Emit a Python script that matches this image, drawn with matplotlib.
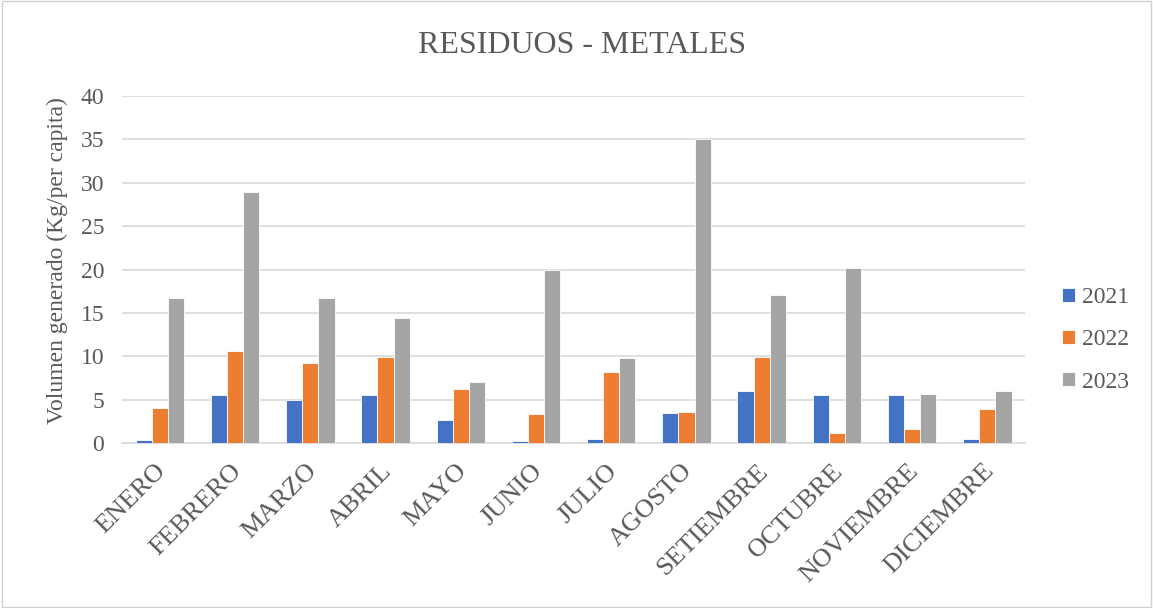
import numpy as np
import matplotlib
matplotlib.use("Agg")
import matplotlib.pyplot as plt
from matplotlib.patches import Rectangle
from matplotlib.transforms import ScaledTranslation

months = ["ENERO", "FEBRERO", "MARZO", "ABRIL", "MAYO", "JUNIO", "JULIO",
          "AGOSTO", "SETIEMBRE", "OCTUBRE", "NOVIEMBRE", "DICIEMBRE"]
v2021 = [0.4, 5.5, 5.0, 5.5, 2.7, 0.2, 0.45, 3.5, 6.0, 5.5, 5.5, 0.45]
v2022 = [4.1, 10.6, 9.2, 9.9, 6.2, 3.4, 8.2, 3.6, 9.9, 1.15, 1.6, 4.0]
v2023 = [16.7, 28.9, 16.7, 14.4, 7.1, 20.0, 9.8, 35.1, 17.1, 20.2, 5.7, 6.0]
series = ["2021", "2022", "2023"]
colors = ["#4472C4", "#ED7D31", "#A5A5A5"]

plt.rcParams["font.family"] = ["Liberation Serif", "DejaVu Serif"]
txt = "#595959"

fig = plt.figure(figsize=(11.53, 6.08), dpi=100)
ax = fig.add_axes([0.106, 0.271, 0.783, 0.571])
fig.patches.append(Rectangle((0.002, 0.002), 0.996, 0.996, transform=fig.transFigure,
                             fill=False, edgecolor="#D0D0D0", lw=1))

x = np.arange(len(months))
w = 0.215
for i, (vals, lab) in enumerate(zip([v2021, v2022, v2023], series)):
    ax.bar(x + (i - 1) * w, vals, width=w, color=colors[i], edgecolor="white",
           linewidth=0.6, label=lab, zorder=3)

ax.set_xlim(-0.5, len(months) - 0.5)
ax.set_ylim(0, 40)
ax.set_yticks(range(0, 41, 5))
ax.yaxis.grid(True, color="#D9D9D9", lw=1.2, zorder=0)
for s in ["top", "right", "left"]:
    ax.spines[s].set_visible(False)
ax.spines["bottom"].set_color("#D9D9D9")
ax.spines["bottom"].set_linewidth(1.2)
ax.tick_params(axis="both", length=0, colors=txt, labelsize=17)
ax.tick_params(axis="y", pad=13)
ax.set_xticks(x)
ax.set_xticklabels(months, rotation=45, ha="right", rotation_mode="anchor", fontsize=19)
ax.tick_params(axis="x", pad=12)
shift = ScaledTranslation(-0.05, 0, fig.dpi_scale_trans)
for t in ax.get_xticklabels():
    t.set_transform(t.get_transform() + shift)
ax.set_ylabel("Volumen generado (Kg/per capita)", fontsize=17, color=txt, labelpad=9)
ax.yaxis.label.set_y(0.525)

fig.text(0.505, 0.925, "RESIDUOS - METALES", ha="center", va="center", fontsize=23, color=txt)

handles, labels = ax.get_legend_handles_labels()
fig.legend(handles, labels, loc="center left", bbox_to_anchor=(0.903, 0.441), frameon=False,
           fontsize=17, labelcolor=txt, handlelength=0.55, handleheight=0.55,
           handletextpad=0.3, labelspacing=0.9)

fig.savefig("out.png", dpi=100)
